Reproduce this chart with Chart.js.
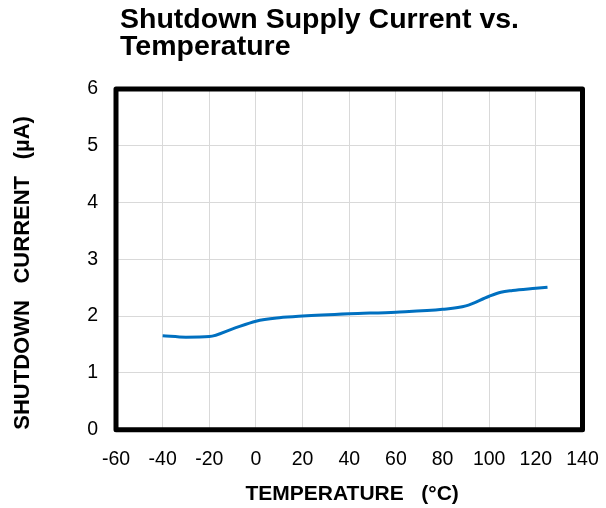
<!DOCTYPE html>
<html>
<head>
<meta charset="utf-8">
<script src="https://cdn.jsdelivr.net/npm/chart.js@4"></script>
<style>
  html, body { margin: 0; padding: 0; background: #fff; }
  #wrap { width: 606px; height: 508px; }
</style>
</head>
<body>
<div id="wrap"><canvas id="c" width="606" height="508"></canvas></div>
<script>
const titleLines = ['Shutdown Supply Current vs.', 'Temperature'];
const xAxisTitle = ' TEMPERATURE   (°C)';
const yAxisTitle = 'SHUTDOWN  \u2009CURRENT  \u2009(µA)';
const temperatures = [-40, -30, -20, -10, 0, 10, 20, 40, 60, 80, 90, 100, 105, 110, 120, 125];
const shutdownCurrent = [1.655, 1.63, 1.64, 1.775, 1.91, 1.97, 2.0, 2.04, 2.07, 2.12, 2.18, 2.35, 2.42, 2.45, 2.49, 2.51];
const xMin = -60, xMax = 140, xStep = 20;
const yMin = 0, yMax = 6, yStep = 1;

const points = temperatures.map((t, i) => ({ x: t, y: shutdownCurrent[i] }));

const boxPlugin = {
  id: 'plotBox',
  afterLayout(chart) {
    if (chart.titleBlock) {
      chart.titleBlock.left += 4;
      chart.titleBlock.right += 4;
    }
  },
  afterDatasetsDraw(chart) {
    const a = chart.chartArea;
    const ctx = chart.ctx;
    ctx.save();
    ctx.strokeStyle = '#000';
    ctx.lineWidth = 5;
    ctx.lineJoin = 'round';
    ctx.strokeRect(a.left, a.top, a.right - a.left, a.bottom - a.top);
    ctx.restore();
  }
};

new Chart(document.getElementById('c'), {
  type: 'line',
  data: {
    datasets: [{
      data: points,
      borderColor: '#0070C0',
      borderWidth: 3,
      pointRadius: 0,
      fill: false,
      cubicInterpolationMode: 'monotone'
    }]
  },
  options: {
    responsive: false,
    animation: false,
    layout: { padding: { left: 0, right: 23.5, top: 0, bottom: 0 } },
    plugins: {
      legend: { display: false },
      tooltip: { enabled: false },
      title: {
        display: true,
        text: titleLines,
        align: 'start',
        fullSize: false,
        color: '#000',
        font: { family: 'Liberation Sans', size: 28.5, weight: 'bold', lineHeight: 0.95 },
        padding: { top: 7, bottom: 27.8 }
      }
    },
    scales: {
      x: {
        type: 'linear',
        min: xMin, max: xMax,
        afterFit(s) { s.height = 78.3; s.paddingLeft = 0; s.paddingRight = 0; },
        ticks: { stepSize: xStep, color: '#000', padding: 18,
          font: { family: 'Liberation Sans', size: 19.5 } },
        grid: { color: '#d9d9d9', lineWidth: 1, drawTicks: false },
        border: { display: false },
        title: { display: true, text: xAxisTitle, color: '#000',
          font: { family: 'Liberation Sans', size: 21, weight: 'bold' },
          padding: { top: 0, bottom: 1.4 } }
      },
      y: {
        type: 'linear',
        min: yMin, max: yMax,
        afterFit(s) { s.width = 116; },
        ticks: { stepSize: yStep, color: '#000', padding: 18,
          font: { family: 'Liberation Sans', size: 19.5 } },
        grid: { color: '#d9d9d9', lineWidth: 1, drawTicks: false },
        border: { display: false },
        title: { display: true, text: yAxisTitle, color: '#000', align: 'start',
          font: { family: 'Liberation Sans', size: 22, weight: 'bold' },
          padding: { top: 9.5, bottom: 0 } }
      }
    }
  },
  plugins: [boxPlugin]
});
</script>
</body>
</html>
